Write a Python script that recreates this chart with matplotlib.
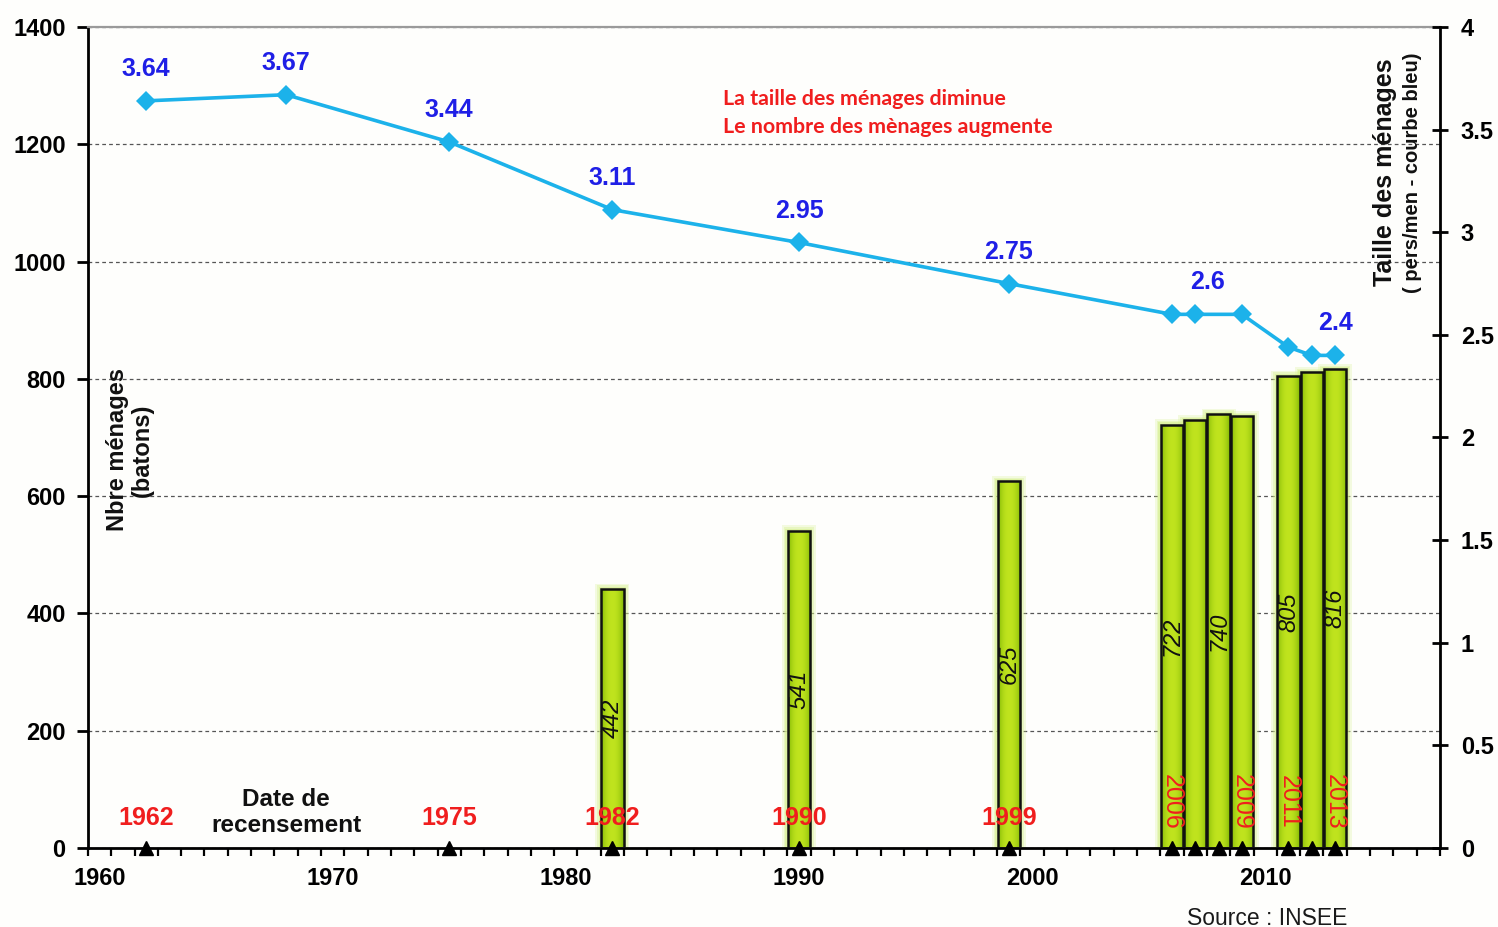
import numpy as np
import matplotlib
matplotlib.use("Agg")
import matplotlib.pyplot as plt
from matplotlib.ticker import FixedLocator

plt.rcParams['font.family'] = ['Liberation Sans', 'DejaVu Sans']

# Nombre de ménages (batons)
bar_years = [1982, 1990, 1999, 2006, 2007, 2008, 2009, 2011, 2012, 2013]
menages = [442, 541, 625, 722, 729, 740, 736, 805, 811, 816]
labelled_bar_years = [1982, 1990, 1999, 2006, 2008, 2011, 2013]

# Taille des ménages (courbe bleue)
line_years = [1962, 1968, 1975, 1982, 1990, 1999, 2006, 2007, 2009, 2011, 2012, 2013]
taille = [3.64, 3.67, 3.44, 3.11, 2.95, 2.75, 2.6, 2.6, 2.6, 2.44, 2.4, 2.4]
labelled_line_years = [1962, 1968, 1975, 1982, 1990, 1999, 2007, 2013]

# Dates de recensement
census_years = [1962, 1975, 1982, 1990, 1999, 2006, 2007, 2008, 2009, 2011, 2012, 2013]
census_flat = [1962, 1975, 1982, 1990, 1999]
census_vertical = [2006, 2009, 2011, 2013]

xticks = [1960, 1970, 1980, 1990, 2000, 2010]
yticks_left = [0, 200, 400, 600, 800, 1000, 1200, 1400]
yticks_right = [0, 0.5, 1, 1.5, 2, 2.5, 3, 3.5, 4]

RED = '#f01e1e'
BLUE = '#1f1fe6'
LINE = '#1cb2ea'
FS = 17

fig = plt.figure(figsize=(14.98, 9.27), dpi=100, facecolor='#fefefc')
ax = fig.add_axes([0.0587, 0.0852, 0.9026, 0.8857])
ax.set_facecolor('#fefefc')

XMIN, XMAX = 1959.5, 2017.5
ax.set_xlim(XMIN, XMAX)
ax.set_ylim(0, 1400)

# grid
ax.set_yticks(yticks_left)
ax.yaxis.grid(True, linestyle=(0, (3, 2.5)), color='#555555', linewidth=0.9, zorder=0.5)
ax.set_axisbelow(True)

# bars: soft halo, gradient fill, outline
w = 0.96
for grow, alpha in [(0.5, 0.25), (0.34, 0.35), (0.2, 0.5)]:
    ax.bar(bar_years, [v + grow * 18 for v in menages], width=w + grow,
           color='#d6f08a', alpha=alpha, zorder=1, linewidth=0)

t = np.linspace(0, 1, 64)
edge = np.array([118, 176, 0]) / 255
centre = np.array([192, 228, 30]) / 255
prof = np.sin(np.pi * t) ** 0.6
grad = (edge[None, :] + (centre - edge)[None, :] * prof[:, None])[None, :, :]

bars = ax.bar(bar_years, menages, width=w, color='none', edgecolor='#111111',
              linewidth=1.8, zorder=3)
for b in bars:
    x0 = b.get_x()
    im = ax.imshow(grad, extent=(x0, x0 + b.get_width(), 0, b.get_height()),
                   aspect='auto', zorder=2.5, interpolation='bilinear')
    im.set_clip_path(b)
ax.set_xlim(XMIN, XMAX)
ax.set_ylim(0, 1400)

# values inside bars
for yr, v in zip(bar_years, menages):
    if yr in labelled_bar_years:
        ax.text(yr, v / 2, f"{v}", rotation=90, ha='center', va='center',
                fontsize=17, style='italic', color='#111111', zorder=4)

# census year labels
for yr in census_flat:
    ax.text(yr, 52, str(yr), ha='center', va='center', fontsize=18,
            fontweight='bold', color=RED, zorder=4)
for yr in census_vertical:
    ax.text(yr, 78, str(yr), rotation=-90, ha='center', va='center', fontsize=18,
            color=RED, zorder=4)

ax.text(1968, 60, "Date de\nrecensement", ha='center', va='center', fontsize=17.5,
        fontweight='bold', color='#111111', linespacing=1.15, zorder=4)

# census markers on the axis
ax.plot(census_years, [0] * len(census_years), linestyle='none', marker='^',
        markersize=10, color='black', clip_on=False, zorder=5)

# left axis styling
ax.spines['left'].set_linewidth(2)
ax.spines['bottom'].set_linewidth(2)
ax.spines['right'].set_visible(False)
ax.spines['top'].set_color('#9a9a9a')
ax.spines['top'].set_linewidth(1.6)
ax.tick_params(axis='y', direction='out', length=8, width=2, pad=8,
               labelsize=FS)
ax.set_xticks(xticks)
ax.xaxis.set_minor_locator(FixedLocator(np.arange(XMIN, XMAX + 0.01, 1.0)))
ax.tick_params(axis='x', which='major', length=0, pad=14, labelsize=FS)
ax.tick_params(axis='x', which='minor', direction='out', length=6, width=1.6)
for lab in ax.get_xticklabels() + ax.get_yticklabels():
    lab.set_fontweight('bold')

ax.text(1961.3, 679, "Nbre ménages\n(batons)", rotation=90, ha='center',
        va='center', fontsize=17, fontweight='bold', color='#111111',
        linespacing=1.12, zorder=4)

# right axis: household size
ax2 = ax.twinx()
ax2.set_ylim(0, 4)
ax2.set_yticks(yticks_right)
ax2.set_yticklabels([f"{v:g}" for v in yticks_right])
for s in ['left', 'top', 'bottom']:
    ax2.spines[s].set_visible(False)
ax2.spines['right'].set_linewidth(2)
ax2.tick_params(axis='y', direction='inout', length=12, width=2, pad=9,
                labelsize=FS)
for lab in ax2.get_yticklabels():
    lab.set_fontweight('bold')

ax2.plot(line_years, taille, color=LINE, linewidth=2.6, marker='D',
         markersize=10.5, markeredgewidth=0, zorder=6)
for yr, v in zip(line_years, taille):
    if yr in labelled_line_years:
        dx = 9 if yr == 2007 else 0
        ax2.annotate(f"{v:g}", (yr, v), xytext=(dx, 23), textcoords='offset points',
                     ha='center', va='center', fontsize=18, fontweight='bold',
                     color=BLUE, zorder=7)

ax2.text(0.9593, 0.823, "Taille des ménages", rotation=90, transform=ax.transAxes,
         ha='center', va='center', fontsize=18, fontweight='bold', color='#111111')
ax2.text(0.9793, 0.823, "( pers/men - courbe bleu)", rotation=90, transform=ax.transAxes,
         ha='center', va='center', fontsize=14.5, fontweight='bold', color='#111111')

# message
fig.text(0.4826, 0.893, "La taille des ménages diminue", family=['Lato', 'DejaVu Sans'],
         fontsize=15.4, fontweight='bold', color=RED, ha='left', va='center')
fig.text(0.4826, 0.863, "Le nombre des mènages augmente", family=['Lato', 'DejaVu Sans'],
         fontsize=15.4, fontweight='bold', color=RED, ha='left', va='center')

fig.text(0.8458, 0.0097, "Source : INSEE", fontsize=16.5, color='#1a1a1a',
         ha='center', va='center')

fig.savefig("out.png", dpi=100, facecolor=fig.get_facecolor())
